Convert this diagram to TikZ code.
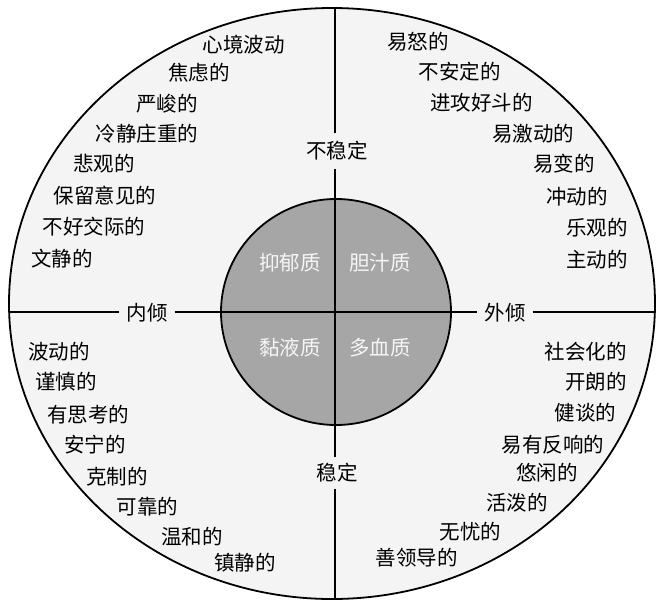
\documentclass[tikz,border=0pt]{standalone}
\usepackage{fontspec}
\newfontfamily\cjk{Noto Sans CJK SC}
\definecolor{outerbg}{HTML}{F4F4F4}
\definecolor{innerbg}{HTML}{A6A6A6}
\definecolor{innertxt}{HTML}{F5F5F5}
\tikzset{
  lbl/.style={font=\cjk\fontsize{20.5}{21}\selectfont, inner sep=0pt, anchor=center},
  axislbl/.style={lbl, fill=outerbg, inner xsep=7pt, inner ysep=8pt},
  typelbl/.style={lbl, text=innertxt},
  axisline/.style={line width=1.8pt, black},
}
\begin{document}
\begin{tikzpicture}[x=1pt,y=-1pt]
\useasboundingbox (0,0) rectangle (656,600);
% outer ellipse and inner circle
\fill[white] (0,0) rectangle (656,600);
\draw[line width=1.8pt, fill=outerbg] (332,303.5) ellipse [x radius=323, y radius=295.5];
\draw[line width=1.8pt, fill=innerbg] (336,312) ellipse [x radius=115, y radius=113];
% axis labels
\node[axislbl] (unstable) at (337,151) {不稳定};
\node[axislbl, inner ysep=6pt] (stable) at (337,473) {稳定};
\node[axislbl, inner ysep=2pt] (intro) at (147,313) {内倾};
\node[axislbl, inner ysep=2pt] (extro) at (505,313) {外倾};
% axis end points
\coordinate (top) at (335,8);
\coordinate (bottom) at (335,599);
\coordinate (left) at (9,312);
\coordinate (right) at (656,312);
\draw[axisline] (top) -- (top |- unstable.north);
\draw[axisline] (top |- unstable.south) -- (top |- stable.north);
\draw[axisline] (top |- stable.south) -- (bottom);
\draw[axisline] (left) -- (left -| intro.west);
\draw[axisline] (left -| intro.east) -- (left -| extro.west);
\draw[axisline] (left -| extro.east) -- (right);
% temperament types
\node[typelbl] (mel) at (290,263) {抑郁质};
\node[typelbl] (cho) at (380,263) {胆汁质};
\node[typelbl] (phl) at (290,348) {黏液质};
\node[typelbl] (san) at (380,348) {多血质};
% upper left
\node[lbl] (ul1) at (243.5,45) {心境波动};
\node[lbl] (ul2) at (199,73) {焦虑的};
\node[lbl] (ul3) at (167,104) {严峻的};
\node[lbl] (ul4) at (147,134) {冷静庄重的};
\node[lbl] (ul5) at (104,164) {悲观的};
\node[lbl] (ul6) at (105,196) {保留意见的};
\node[lbl] (ul7) at (94,227) {不好交际的};
\node[lbl] (ul8) at (62,259) {文静的};
% upper right
\node[lbl] (ur1) at (418,42) {易怒的};
\node[lbl] (ur2) at (459.5,72) {不安定的};
\node[lbl] (ur3) at (481.5,103) {进攻好斗的};
\node[lbl] (ur4) at (533,134) {易激动的};
\node[lbl] (ur5) at (564,164) {易变的};
\node[lbl] (ur6) at (577,197) {冲动的};
\node[lbl] (ur7) at (597,228) {乐观的};
\node[lbl] (ur8) at (597,260) {主动的};
% lower left
\node[lbl] (ll1) at (59,352) {波动的};
\node[lbl] (ll2) at (66,382) {谨慎的};
\node[lbl] (ll3) at (88,415) {有思考的};
\node[lbl] (ll4) at (95,445) {安宁的};
\node[lbl] (ll5) at (117,477) {克制的};
\node[lbl] (ll6) at (147.5,507) {可靠的};
\node[lbl] (ll7) at (192,537) {温和的};
\node[lbl] (ll8) at (245,563) {镇静的};
% lower right
\node[lbl] (lr1) at (585.5,352) {社会化的};
\node[lbl] (lr2) at (596,382) {开朗的};
\node[lbl] (lr3) at (585.5,413) {健谈的};
\node[lbl] (lr4) at (553,445) {易有反响的};
\node[lbl] (lr5) at (547,473) {悠闲的};
\node[lbl] (lr6) at (517,503) {活泼的};
\node[lbl] (lr7) at (470.5,532) {无忧的};
\node[lbl] (lr8) at (416.5,558) {善领导的};
\end{tikzpicture}
\end{document}
